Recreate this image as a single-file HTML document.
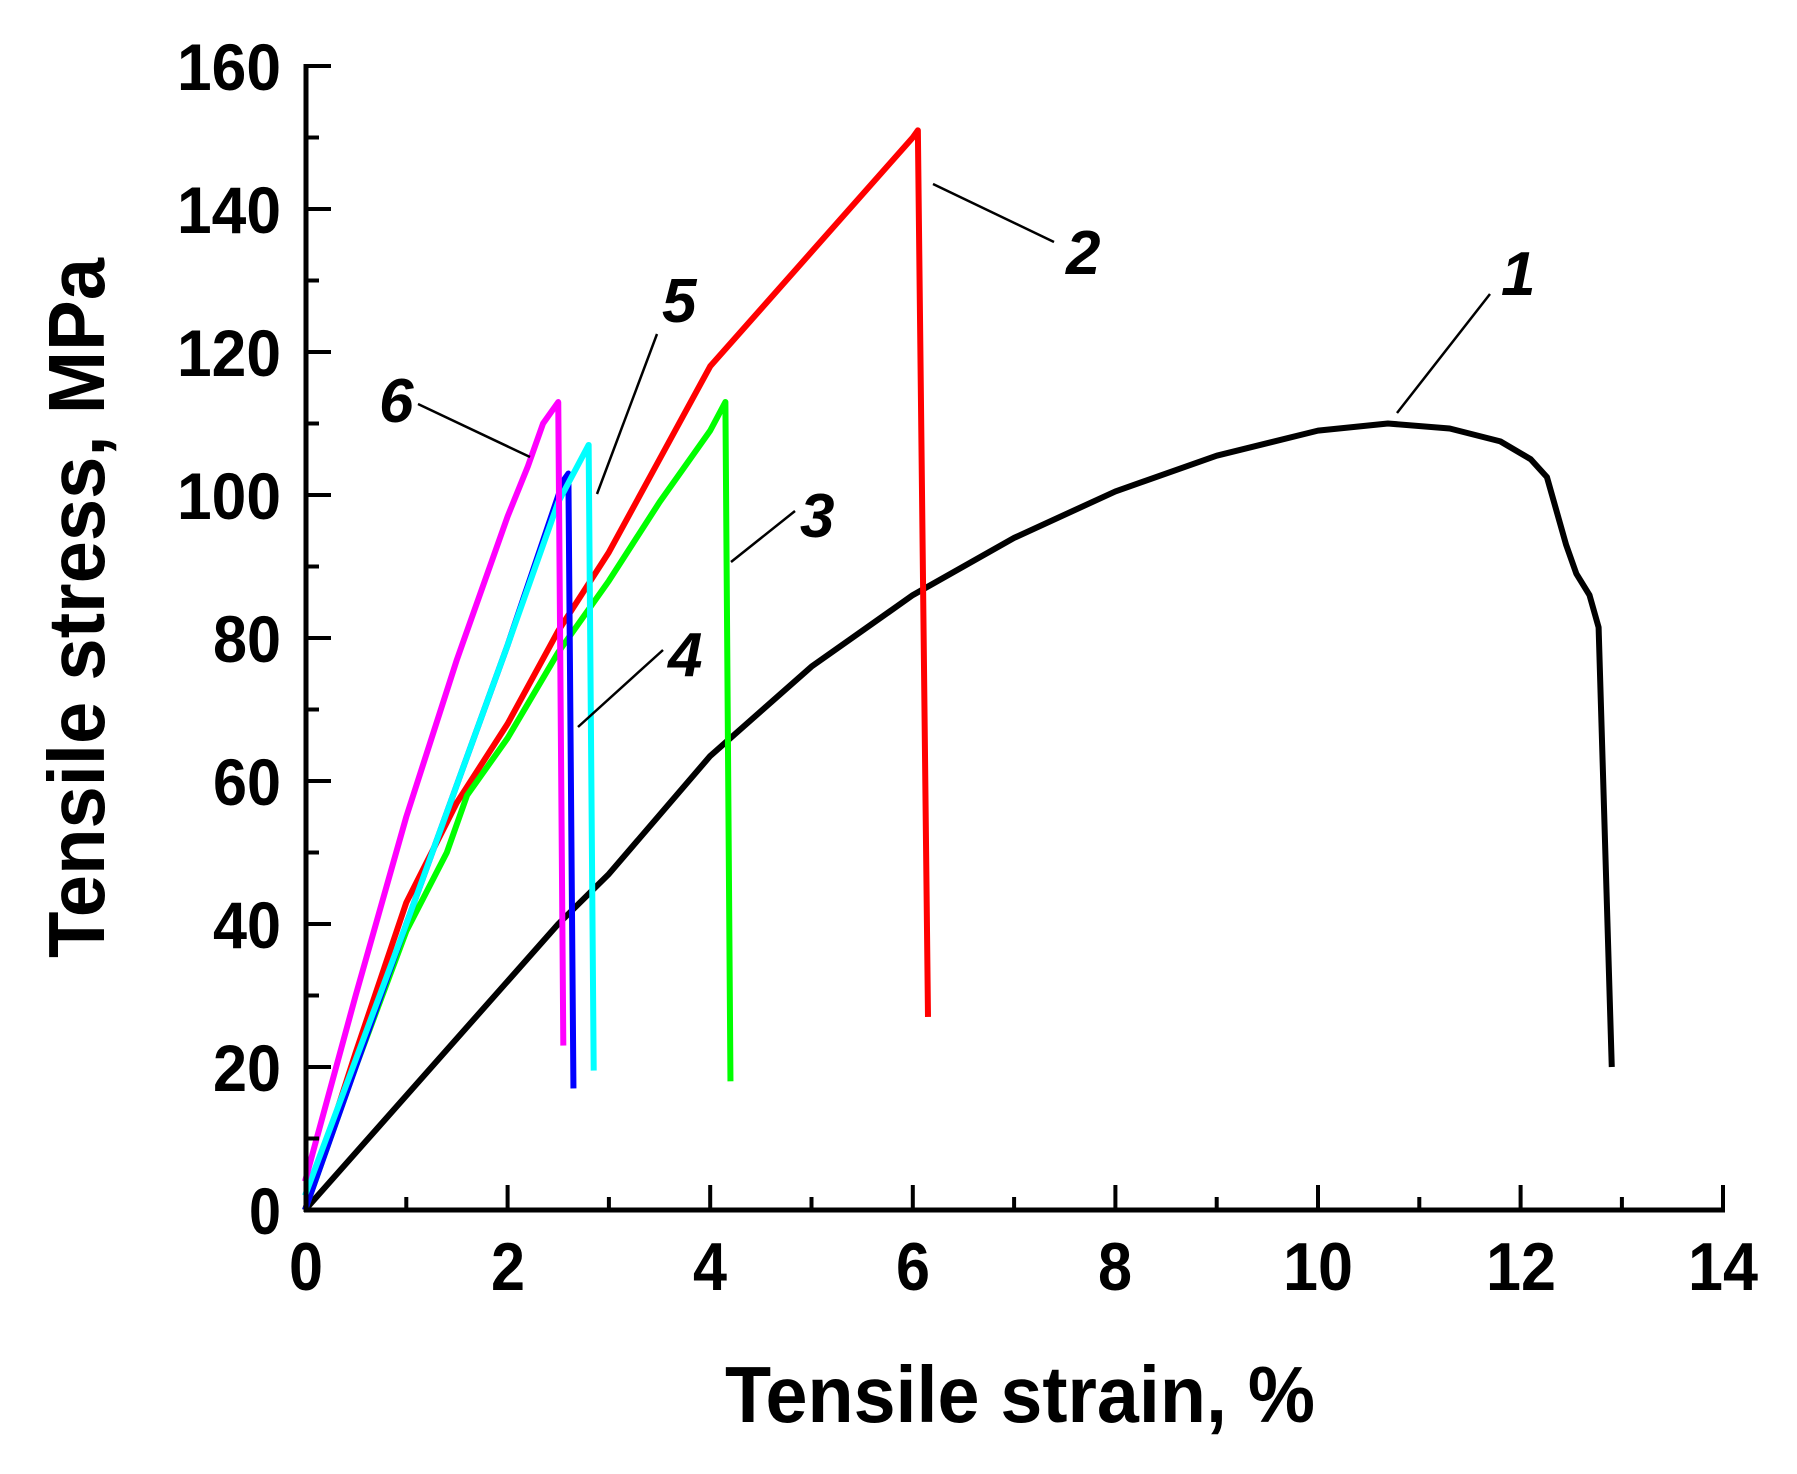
<!DOCTYPE html>
<html><head><meta charset="utf-8"><style>
html,body{margin:0;padding:0;background:#fff}
svg{display:block}
text{font-family:"Liberation Sans",sans-serif;font-weight:bold;fill:#000}
</style></head><body>
<svg width="1797" height="1474" viewBox="0 0 1797 1474" xmlns="http://www.w3.org/2000/svg">
<g fill="none" stroke-linejoin="round" stroke-linecap="butt">
<g transform="translate(305,1210) scale(101.3,-7.15)" stroke-width="6">
<polyline vector-effect="non-scaling-stroke" stroke="#000" points="0,0 1,16 2,32 2.5,40 3,47 4,63.5 5,76 6,86 7,94 8,100.5 9,105.5 10,109 10.69,110 11.3,109.3 11.8,107.5 12.1,105 12.26,102.5 12.35,98 12.45,93 12.55,89 12.68,86 12.77,81.5 12.9,20"/>
<polyline vector-effect="non-scaling-stroke" stroke="#f00" points="0,0 0.5,22 1,43 1.5,57 2,68 2.5,81 3,92 3.5,105 4,118 5,134 6,150 6.05,151 6.15,27"/>
<polyline vector-effect="non-scaling-stroke" stroke="#0f0" points="0,0 0.5,20 1,39 1.4,50 1.6,58 2,66 2.5,78 3,88 3.5,99 4,109 4.15,113 4.2,18"/>
<polyline vector-effect="non-scaling-stroke" stroke="#00f" points="0,0 1,40 2,79 2.55,102 2.6,103 2.65,17"/>
<polyline vector-effect="non-scaling-stroke" stroke="#0ff" points="0,2 1,40 2,79 2.5,99 2.8,107 2.85,19.5"/>
<polyline vector-effect="non-scaling-stroke" stroke="#f0f" points="0,4 0.5,30 1,55 1.5,77 2,97 2.2,104 2.35,110 2.5,113 2.55,23"/>
</g>
<g stroke="#000" stroke-width="2.5">
<line x1="1490" y1="294" x2="1397" y2="413"/>
<line x1="1054" y1="242" x2="933" y2="184"/>
<line x1="795" y1="511" x2="731" y2="562"/>
<line x1="663" y1="650" x2="578" y2="727"/>
<line x1="657" y1="334" x2="597" y2="494"/>
<line x1="418" y1="404" x2="530" y2="457"/>
</g>
<g stroke="#000" stroke-width="5">
<line x1="306" y1="64" x2="306" y2="1212"/>
<line x1="304" y1="1210" x2="1725" y2="1210"/>
</g>
<g stroke="#000" stroke-width="4">
<path d="M306 66h25M306 209h25M306 352h25M306 495h25M306 638h25M306 781h25M306 924h25M306 1067h25"/>
<path d="M306 137.5h13M306 280.5h13M306 423.5h13M306 566.5h13M306 709.5h13M306 852.5h13M306 995.5h13M306 1138.5h13"/>
<path d="M507.6 1210v-25M710.2 1210v-25M912.8 1210v-25M1115.4 1210v-25M1318 1210v-25M1520.6 1210v-25M1723 1210v-25"/>
<path d="M406.3 1210v-13M608.9 1210v-13M811.5 1210v-13M1014.1 1210v-13M1216.7 1210v-13M1419.3 1210v-13M1621.9 1210v-13"/>
</g>
</g>
<g font-size="66" text-anchor="end">
<text x="281" y="90" textLength="104" lengthAdjust="spacingAndGlyphs">160</text>
<text x="281" y="233" textLength="104" lengthAdjust="spacingAndGlyphs">140</text>
<text x="281" y="376" textLength="104" lengthAdjust="spacingAndGlyphs">120</text>
<text x="281" y="519" textLength="104" lengthAdjust="spacingAndGlyphs">100</text>
<text x="281" y="662" textLength="68" lengthAdjust="spacingAndGlyphs">80</text>
<text x="281" y="805" textLength="68" lengthAdjust="spacingAndGlyphs">60</text>
<text x="281" y="948" textLength="68" lengthAdjust="spacingAndGlyphs">40</text>
<text x="281" y="1091" textLength="68" lengthAdjust="spacingAndGlyphs">20</text>
<text x="281" y="1234" textLength="32" lengthAdjust="spacingAndGlyphs">0</text>
</g>
<g font-size="68" text-anchor="middle">
<text x="306" y="1290" textLength="34" lengthAdjust="spacingAndGlyphs">0</text>
<text x="508" y="1290" textLength="34" lengthAdjust="spacingAndGlyphs">2</text>
<text x="710" y="1290" textLength="34" lengthAdjust="spacingAndGlyphs">4</text>
<text x="913" y="1290" textLength="34" lengthAdjust="spacingAndGlyphs">6</text>
<text x="1115" y="1290" textLength="34" lengthAdjust="spacingAndGlyphs">8</text>
<text x="1318" y="1290" textLength="70" lengthAdjust="spacingAndGlyphs">10</text>
<text x="1521" y="1290" textLength="70" lengthAdjust="spacingAndGlyphs">12</text>
<text x="1723" y="1290" textLength="70" lengthAdjust="spacingAndGlyphs">14</text>
</g>
<text x="725" y="1422" font-size="80" textLength="590" lengthAdjust="spacingAndGlyphs">Tensile strain, %</text>
<text transform="translate(104,958) rotate(-90)" font-size="80" textLength="700" lengthAdjust="spacingAndGlyphs">Tensile stress, MPa</text>
<g font-size="62" font-style="italic">
<text x="1501" y="295">1</text>
<text x="1066" y="274">2</text>
<text x="800" y="537">3</text>
<text x="668" y="676">4</text>
<text x="662" y="322">5</text>
<text x="379" y="422">6</text>
</g>
</svg>
</body></html>
